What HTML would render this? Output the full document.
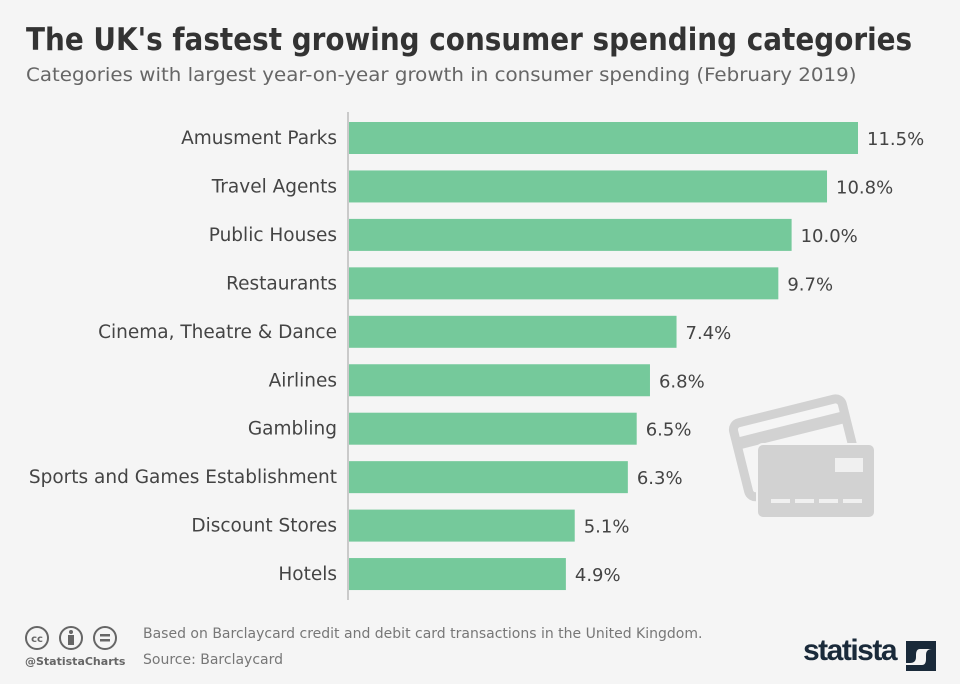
<!DOCTYPE html>
<html><head><meta charset="utf-8"><style>
body{margin:0;background:#f5f5f5;}
#wrap{position:relative;width:960px;height:684px;background:#f5f5f5;font-family:"DejaVu Sans","Liberation Sans",sans-serif;overflow:hidden}
h1{position:absolute;left:26px;top:22px;margin:0;font-size:31px;font-weight:bold;color:#333;white-space:nowrap;transform-origin:0 0}
.sub{position:absolute;left:26px;top:64px;font-size:19px;color:#666;white-space:nowrap;transform-origin:0 0}
svg{position:absolute;left:0;top:0}
.foot{position:absolute;font-size:14px;color:#777}
</style></head><body>
<div id="wrap">
<h1 id="title">The UK's fastest growing consumer spending categories</h1>
<div id="sub" class="sub">Categories with largest year-on-year growth in consumer spending (February 2019)</div>
<svg id="chart" width="960" height="684">
 <g>
  <g transform="rotate(-14 795 450)">
   <rect x="740" y="410" width="112" height="76" rx="7" fill="none" stroke="#d2d2d2" stroke-width="9"/>
   <rect x="740" y="424" width="112" height="12" fill="#d2d2d2"/>
  </g>
  <rect x="756" y="443" width="120" height="76" rx="7" fill="#f5f5f5"/>
  <rect x="758" y="445" width="116" height="72" rx="5" fill="#d2d2d2"/>
  <rect x="835" y="458" width="28" height="14" fill="#f0f0f0"/>
  <g fill="#f0f0f0"><rect x="771" y="499" width="19" height="4"/><rect x="795" y="499" width="19" height="4"/><rect x="819" y="499" width="19" height="4"/><rect x="843" y="499" width="19" height="4"/></g>
 </g>
</svg>
<div class="foot" style="left:143px;top:626px">Based on Barclaycard credit and debit card transactions in the United Kingdom.</div>
<div class="foot" style="left:143px;top:652px">Source: Barclaycard</div>
<div class="foot" style="left:25px;top:655px;font-size:11px;font-weight:bold;color:#666">@StatistaCharts</div>
<div style="position:absolute;left:25px;top:625px">
 <svg width="100" height="26" style="position:static"><g fill="none" stroke="#666" stroke-width="2"><circle cx="12" cy="13" r="11"/><circle cx="46" cy="13" r="11"/><circle cx="80" cy="13" r="11"/></g>
 <text x="12" y="17" font-size="10" font-weight="bold" text-anchor="middle" fill="#666">cc</text>
 <circle cx="46" cy="7" r="2" fill="#666"/><rect x="43" y="10" width="6" height="10" fill="#666"/>
 <rect x="75" y="9" width="10" height="2.5" fill="#666"/><rect x="75" y="14" width="10" height="2.5" fill="#666"/></svg>
</div>
<div style="position:absolute;left:803px;top:634px;font-size:30px;font-weight:bold;color:#1a2a3a;letter-spacing:-1.5px;font-family:'Liberation Sans Narrow','Liberation Sans',sans-serif">statista</div>
<svg width="30" height="30" style="left:906px;top:641px"><path d="M0 0H30V8H14Q10 8 10 14V16Q10 22 4 22H0Z" fill="#1a2a3a"/><path d="M30 8V30H0V24H16Q20 24 20 18V14Q20 8 26 8Z" fill="#1a2a3a"/></svg>
</div>
<script>
const categories=["Amusment Parks","Travel Agents","Public Houses","Restaurants","Cinema, Theatre & Dance","Airlines","Gambling","Sports and Games Establishment","Discount Stores","Hotels"];
const values=[11.5,10.8,10.0,9.7,7.4,6.8,6.5,6.3,5.1,4.9];
const valueLabels=["11.5%","10.8%","10.0%","9.7%","7.4%","6.8%","6.5%","6.3%","5.1%","4.9%"];
function fit(id,w){const e=document.getElementById(id);e.style.transform='scaleX('+(w/e.scrollWidth)+')';}
fit('title',886);fit('sub',831);
const svg=document.getElementById('chart');
const NS='http://www.w3.org/2000/svg';
const x0=349, pxPer=509/11.5;
function xs(v){return x0+v*pxPer;}
function yc(i){return 138+i*48.45;}
categories.forEach((c,i)=>{
 const r=document.createElementNS(NS,'rect');
 r.setAttribute('x',x0);r.setAttribute('y',yc(i)-16);r.setAttribute('width',xs(values[i])-x0);r.setAttribute('height',32);r.setAttribute('fill','#75c99b');
 
 
 svg.insertBefore(r,svg.firstChild);
 const t=document.createElementNS(NS,'text');
 t.setAttribute('x',337);t.setAttribute('y',yc(i)+6);t.setAttribute('text-anchor','end');t.setAttribute('font-size','18.5');t.setAttribute('fill','#444');t.textContent=c;
 
 
 svg.appendChild(t);
 const v=document.createElementNS(NS,'text');
 v.setAttribute('x',xs(values[i])+9);v.setAttribute('y',yc(i)+7);v.setAttribute('font-size','18');v.setAttribute('fill','#444');v.textContent=valueLabels[i];
 
 
 svg.appendChild(v);
});
const ax=document.createElementNS(NS,'line');
ax.setAttribute('x1',348);ax.setAttribute('x2',348);ax.setAttribute('y1',112);ax.setAttribute('y2',600);ax.setAttribute('stroke','#bbb');ax.setAttribute('stroke-width','1.5');


svg.appendChild(ax);
</script>
</body></html>
